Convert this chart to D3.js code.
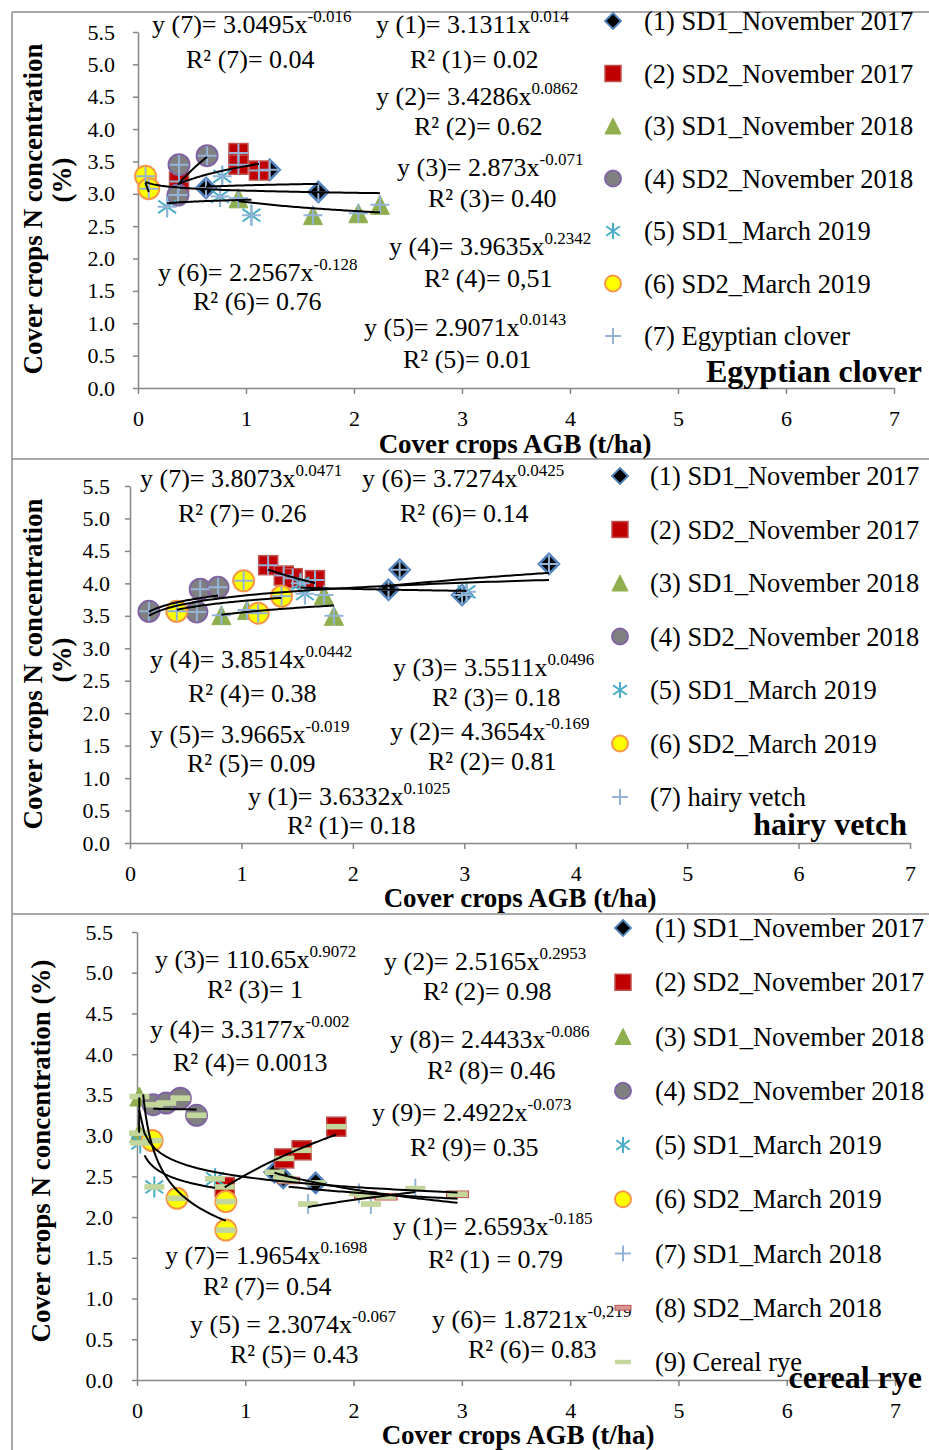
<!DOCTYPE html>
<html>
<head>
<meta charset="utf-8">
<script src="https://cdn.jsdelivr.net/npm/d3@7"></script>
<style>
  body { margin: 0; background: #fff; }
  svg text { font-family: "Liberation Serif", "Times New Roman", serif; fill: #000; }
</style>
</head>
<body>
<div id="chart"></div>
<script>
// ---- data ----
var xTicks = [0, 1, 2, 3, 4, 5, 6, 7];
var yTicks = [0, 0.5, 1, 1.5, 2, 2.5, 3, 3.5, 4, 4.5, 5, 5.5];

// Egyptian clover
var cloverLegend = ["(1) SD1_November 2017", "(2) SD2_November 2017", "(3) SD1_November 2018",
  "(4) SD2_November 2018", "(5) SD1_March 2019", "(6) SD2_March 2019", "(7) Egyptian clover"];
var clover1 = [[0.63, 3.09], [1.22, 3.37], [1.67, 3.03]];
var clover2 = [[0.38, 3.19], [0.93, 3.63], [0.93, 3.45], [1.12, 3.36]];
var clover3 = [[0.93, 2.93], [1.62, 2.67], [2.04, 2.70], [2.24, 2.83]];
var clover4 = [[0.37, 2.98], [0.38, 3.45], [0.64, 3.59]];
var clover5 = [[0.27, 2.80], [0.78, 3.27], [0.76, 2.96], [1.05, 2.67]];
var clover6 = [[0.07, 3.27], [0.10, 3.08]];
// trend lines: series, a, b (y = a x^b), x from, x to
var cloverTrends = [[7, 3.0495, -0.016, 0.07, 2.24], [1, 3.1311, 0.014, 0.63, 1.67],
  [2, 3.4286, 0.0862, 0.38, 1.12], [3, 2.873, -0.071, 0.93, 2.24], [4, 3.9635, 0.2342, 0.37, 0.64],
  [5, 2.9071, 0.0143, 0.27, 1.05], [6, 2.2567, -0.128, 0.07, 0.10]];
var cloverEquations = [["y (7)= 3.0495x", "-0.016"], ["R²  (7)= 0.04"], ["y (1)= 3.1311x", "0.014"], ["R² (1)= 0.02"],
  ["y (2)= 3.4286x", "0.0862"], ["R² (2)= 0.62"], ["y (3)= 2.873x", "-0.071"], ["R² (3)= 0.40"],
  ["y (4)= 3.9635x", "0.2342"], ["R² (4)= 0,51"], ["y (5)= 2.9071x", "0.0143"], ["R² (5)= 0.01"],
  ["y (6)= 2.2567x", "-0.128"], ["R² (6)= 0.76"]];

// hairy vetch
var vetchLegend = ["(1) SD1_November 2017", "(2) SD2_November 2017", "(3) SD1_November 2018",
  "(4) SD2_November 2018", "(5) SD1_March 2019", "(6) SD2_March 2019", "(7) hairy vetch"];
var vetch1 = [[2.32, 3.90], [2.42, 4.21], [2.98, 3.82], [3.76, 4.30]];
var vetch2 = [[1.24, 4.28], [1.38, 4.12], [1.46, 4.08], [1.66, 4.05]];
var vetch3 = [[0.82, 3.51], [1.05, 3.59], [1.74, 3.82], [1.83, 3.50]];
var vetch4 = [[0.17, 3.57], [0.60, 3.56], [0.63, 3.91], [0.79, 3.94]];
var vetch5 = [[1.53, 4.00], [1.57, 3.84], [3.02, 3.87]];
var vetch6 = [[0.42, 3.57], [1.02, 4.04], [1.15, 3.54], [1.36, 3.80]];
var vetchTrends = [[7, 3.8073, 0.0471, 0.17, 3.76], [1, 3.6332, 0.1025, 2.32, 3.76],
  [6, 3.7274, 0.0425, 0.42, 1.36], [4, 3.8514, 0.0442, 0.17, 0.79], [3, 3.5511, 0.0496, 0.82, 1.83],
  [2, 4.3654, -0.169, 1.24, 1.66], [5, 3.9665, -0.019, 1.53, 3.02]];
var vetchEquations = [["y (7)= 3.8073x", "0.0471"], ["R² (7)= 0.26"], ["y (6)= 3.7274x", "0.0425"], ["R² (6)= 0.14"],
  ["y (4)= 3.8514x", "0.0442"], ["R² (4)= 0.38"], ["y (3)= 3.5511x", "0.0496"], ["R² (3)= 0.18"],
  ["y (5)= 3.9665x", "-0.019"], ["R² (5)= 0.09"], ["y (2)= 4.3654x", "-0.169"], ["R² (2)= 0.81"],
  ["y (1)= 3.6332x", "0.1025"], ["R² (1)= 0.18"]];

// cereal rye
var ryeLegend = ["(1) SD1_November 2017", "(2) SD2_November 2017", "(3) SD1_November 2018",
  "(4) SD2_November 2018", "(5) SD1_March 2019", "(6) SD2_March 2019", "(7) SD1_March 2018",
  "(8) SD2_March 2018", "(9) Cereal rye"];
var rye1 = [[1.27, 2.55], [1.35, 2.48], [1.65, 2.42]];
var rye2 = [[0.81, 2.37], [1.36, 2.72], [1.52, 2.82], [1.84, 3.11]];
var rye3 = [[0.019, 3.03], [0.022, 3.48]];
var rye4 = [[0.15, 3.38], [0.27, 3.40], [0.40, 3.46], [0.55, 3.25]];
var rye5 = [[0.03, 2.91], [0.16, 2.37], [0.72, 2.47]];
var rye6 = [[0.14, 2.94], [0.37, 2.23], [0.82, 2.19], [0.82, 1.84]];
var rye7 = [[1.58, 2.16], [2.05, 2.29], [2.16, 2.16], [2.57, 2.35]];
var rye8 = [[1.40, 2.45], [2.11, 2.27], [2.30, 2.25], [2.96, 2.28]];
var ryeTrends = [[3, 110.65, 0.9072, 0.019, 0.022], [2, 2.5165, 0.2953, 0.81, 1.84],
  [4, 3.3177, -0.002, 0.15, 0.55], [8, 2.4433, -0.086, 1.40, 2.96], [9, 2.4922, -0.073, 0.02, 2.96],
  [1, 2.6593, -0.185, 1.27, 2.96], [7, 1.9654, 0.1698, 1.58, 2.57], [5, 2.3074, -0.067, 0.07, 0.72],
  [6, 1.8721, -0.219, 0.057, 0.82]];
var ryeEquations = [["y (3)= 110.65x", "0.9072"], ["R²  (3)= 1"], ["y (2)= 2.5165x", "0.2953"], ["R² (2)= 0.98"],
  ["y (4)= 3.3177x", "-0.002"], ["R² (4)= 0.0013"], ["y (8)= 2.4433x", "-0.086"], ["R² (8)= 0.46"],
  ["y (9)= 2.4922x", "-0.073"], ["R² (9)= 0.35"], ["y (1)= 2.6593x", "-0.185"], ["R² (1) = 0.79"],
  ["y (7)= 1.9654x", "0.1698"], ["R² (7)= 0.54"], ["y (5) = 2.3074x", "-0.067"], ["R² (5)= 0.43"],
  ["y (6)= 1.8721x", "-0,219"], ["R² (6)= 0.83"]];

// ---- layout ----
var width = 929, height = 1450;
var svg = d3.select("#chart").append("svg").attr("width", width).attr("height", height);

// panel frames
var frame = "#8c8c8c";
svg.append("line").attr("x1", 12).attr("x2", width).attr("y1", 12).attr("y2", 12).attr("stroke", frame).attr("stroke-width", 1.5);
svg.append("line").attr("x1", 12).attr("x2", 12).attr("y1", 12).attr("y2", height).attr("stroke", frame).attr("stroke-width", 1.5);
[459, 914].forEach(function (yy) {
  svg.append("line").attr("x1", 12).attr("x2", width).attr("y1", yy).attr("y2", yy).attr("stroke", frame).attr("stroke-width", 1.5);
});

function marker(g, type, s) {
  var h = s / 2;
  if (type == "diamond") {
    g.append("path").attr("d", "M0," + (-h) + "L" + h + ",0L0," + h + "L" + (-h) + ",0Z")
      .attr("fill", "#000").attr("stroke", "#4f81bd").attr("stroke-width", s > 16 ? 2.5 : 1.8);
  } else if (type == "square") {
    g.append("rect").attr("x", -h).attr("y", -h).attr("width", s).attr("height", s)
      .attr("fill", "#c00000").attr("stroke", "#c0504d").attr("stroke-width", 1.5);
  } else if (type == "triangle") {
    g.append("path").attr("d", "M0," + (-h) + "L" + h + "," + h + "L" + (-h) + "," + h + "Z")
      .attr("fill", "#8faf4f").attr("stroke", "#8faf4f").attr("stroke-width", 1);
  } else if (type == "circle") {
    g.append("circle").attr("r", h).attr("fill", "#808080").attr("stroke", "#8064a2").attr("stroke-width", 2);
  } else if (type == "yellow") {
    g.append("circle").attr("r", h).attr("fill", "#ffff00").attr("stroke", "#f79646").attr("stroke-width", 2);
  } else if (type == "star") {
    var d = h * 0.85;
    g.append("path").attr("d", "M0," + (-h) + "V" + h + "M" + (-d) + "," + (-h * 0.6) + "L" + d + "," + (h * 0.6) +
      "M" + (-d) + "," + (h * 0.6) + "L" + d + "," + (-h * 0.6))
      .attr("stroke", "#4bacc6").attr("stroke-width", 2).attr("fill", "none");
  } else if (type == "plus") {
    g.append("path").attr("d", "M0," + (-h) + "V" + h + "M" + (-h) + ",0H" + h)
      .attr("stroke", "#95b3d7").attr("stroke-width", 2).attr("fill", "none");
  } else if (type == "dashRed") {
    g.append("rect").attr("x", -h).attr("y", -s * 0.15).attr("width", s).attr("height", s * 0.3)
      .attr("fill", "#d99694").attr("stroke", "#c0504d").attr("stroke-width", 1);
  } else if (type == "dashGreen") {
    g.append("rect").attr("x", -h).attr("y", -s * 0.14).attr("width", s).attr("height", s * 0.28)
      .attr("fill", "#c3d69b");
  }
}

function eqText(g, pos, eq) {
  var t = g.append("text").attr("x", pos[0]).attr("y", pos[1] + 8).attr("font-size", 26);
  t.append("tspan").text(eq[0]);
  if (eq[1]) t.append("tspan").attr("dy", -11).attr("font-size", 17).text(eq[1]);
}

function drawPanel(p) {
  var g = svg.append("g");
  var x = d3.scaleLinear().domain([0, 7]).range(p.xr);
  var y = d3.scaleLinear().domain([0, 5.5]).range(p.yr);

  var yAxisG = g.append("g").attr("transform", "translate(" + p.xr[0] + ",0)")
    .call(d3.axisLeft(y).tickValues(yTicks).tickFormat(d3.format(".1f")).tickSize(5).tickSizeOuter(0).tickPadding(p.ypad));
  var xAxisG = g.append("g").attr("transform", "translate(0," + p.yr[0] + ")")
    .call(d3.axisBottom(x).tickValues(xTicks).tickFormat(d3.format("d")).tickSize(6).tickSizeOuter(0).tickPadding(16));
  [yAxisG, xAxisG].forEach(function (a) {
    a.selectAll("path, line").attr("stroke", "#868686").attr("stroke-width", 1.5);
    a.selectAll("text").attr("font-size", 22).attr("font-family", "Liberation Serif");
  });

  // points
  p.series.forEach(function (pts, i) {
    pts.forEach(function (d) {
      var m = g.append("g").attr("transform", "translate(" + x(d[0]) + "," + y(d[1]) + ")");
      marker(m, p.types[i], p.sizes[i]);
    });
  });
  // overall series overlaid on every point
  p.series.forEach(function (pts) {
    pts.forEach(function (d) {
      var m = g.append("g").attr("transform", "translate(" + x(d[0]) + "," + y(d[1]) + ")");
      marker(m, p.allType, p.allSize);
    });
  });

  // power trend lines from the printed equations
  var line = d3.line().x(function (d) { return x(d[0]); }).y(function (d) { return y(d[1]); });
  p.trends.forEach(function (t) {
    var n = 60, pts = [];
    for (var k = 0; k <= n; k++) {
      var xv = t[3] + (t[4] - t[3]) * k / n;
      pts.push([xv, t[1] * Math.pow(xv, t[2])]);
    }
    g.append("path").attr("d", line(pts)).attr("fill", "none").attr("stroke", "#000").attr("stroke-width", 2);
  });

  // equations
  p.equations.forEach(function (eq, i) { eqText(g, p.eqPos[i], eq); });

  // legend
  p.legend.forEach(function (name, i) {
    var yy = p.legY[0] + i * p.legY[1];
    var m = g.append("g").attr("transform", "translate(" + p.legX[0] + "," + yy + ")");
    marker(m, p.legTypes[i], 16);
    g.append("text").attr("x", p.legX[1]).attr("y", yy + 9).attr("font-size", 26.5).text(name);
  });

  // titles
  g.append("text").attr("x", p.name[1]).attr("y", p.name[2] + 10).attr("text-anchor", "end")
    .attr("font-size", 32).attr("font-weight", "bold").text(p.name[0]);
  g.append("text").attr("x", p.xTitle[0]).attr("y", p.xTitle[1] + 10).attr("text-anchor", "middle")
    .attr("font-size", 27).attr("font-weight", "bold").text("Cover crops AGB (t/ha)");
  p.yTitle.forEach(function (t) {
    g.append("text").attr("transform", "translate(" + (t[1] + 9) + "," + t[2] + ") rotate(-90)")
      .attr("text-anchor", "middle").attr("font-size", 27).attr("font-weight", "bold").text(t[0]);
  });
}

var baseTypes = ["diamond", "square", "triangle", "circle", "star", "yellow", "plus", "dashRed", "dashGreen"];
var baseSizes = [20, 19, 19, 21, 21, 21, 20, 22, 20];

drawPanel({
  xr: [138, 894], yr: [388, 32], ypad: 18,
  series: [clover1, clover2, clover3, clover4, clover5, clover6],
  types: baseTypes, sizes: baseSizes, allType: "plus", allSize: 19,
  trends: cloverTrends, equations: cloverEquations,
  eqPos: [[152, 25], [186, 60], [376, 25], [410, 60], [376, 97], [414, 127], [397, 168], [428, 199],
    [389, 247], [424, 279], [364, 328], [403, 360], [158, 273], [193, 302]],
  legend: cloverLegend, legTypes: baseTypes, legX: [613, 644], legY: [21, 52.5],
  name: ["Egyptian clover", 922, 372], xTitle: [515, 443],
  yTitle: [["Cover crops N concentration", 33, 209], ["(%)", 62, 180]]
});

drawPanel({
  xr: [130, 910], yr: [843, 486], ypad: 15,
  series: [vetch1, vetch2, vetch3, vetch4, vetch5, vetch6],
  types: baseTypes, sizes: baseSizes, allType: "plus", allSize: 19,
  trends: vetchTrends, equations: vetchEquations,
  eqPos: [[140, 479], [178, 514], [362, 479], [400, 514], [150, 660], [188, 694], [393, 668], [432, 698],
    [150, 735], [187, 764], [390, 732], [428, 762], [248, 797], [287, 826]],
  legend: vetchLegend, legTypes: baseTypes, legX: [620, 650], legY: [476, 53.5],
  name: ["hairy vetch", 907, 825], xTitle: [520, 897],
  yTitle: [["Cover crops N concentration", 33, 664], ["(%)", 62, 660]]
});

drawPanel({
  xr: [137, 895], yr: [1380, 932], ypad: 19,
  series: [rye1, rye2, rye3, rye4, rye5, rye6, rye7, rye8],
  types: baseTypes, sizes: baseSizes, allType: "dashGreen", allSize: 20,
  trends: ryeTrends, equations: ryeEquations,
  eqPos: [[155, 960], [207, 990], [384, 962], [423, 992], [150, 1030], [173, 1063], [390, 1040], [427, 1071],
    [372, 1113], [410, 1148], [393, 1227], [428, 1260], [165, 1256], [203, 1287], [190, 1325], [230, 1355],
    [432, 1320], [468, 1350]],
  legend: ryeLegend, legTypes: baseTypes, legX: [623, 655], legY: [928, 54.25],
  name: ["cereal rye", 922, 1378], xTitle: [518, 1434],
  yTitle: [["Cover crops N concentration (%)", 41, 1151]]
});
</script>
</body>
</html>
